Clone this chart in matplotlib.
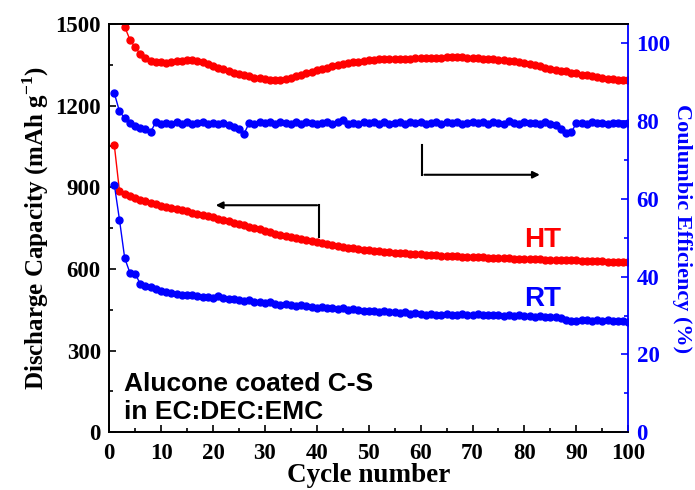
import numpy as np
import matplotlib
matplotlib.use('Agg')
import matplotlib.pyplot as plt
from matplotlib.ticker import MultipleLocator

plt.rcParams['font.family'] = 'Liberation Serif'
plt.rcParams['font.weight'] = 'bold'
plt.rcParams['mathtext.fontset'] = 'custom'
plt.rcParams['mathtext.rm'] = 'Liberation Serif:bold'
plt.rcParams['mathtext.bf'] = 'Liberation Serif:bold'

cycles = list(range(1, 101))

# discharge capacity (mAh/g)
cap_ht = [1055, 885, 876, 868, 861, 855, 849, 843, 838, 833,
          828, 824, 820, 815, 811, 806, 802, 798, 794, 790,
          785, 780, 775, 770, 765, 760, 755, 750, 745, 740,
          735, 730, 726, 722, 718, 714, 710, 706, 702, 698,
          694, 690, 687, 684, 681, 678, 676, 673, 671, 669,
          667, 665, 663, 662, 660, 659, 657, 656, 655, 654,
          652, 651, 650, 649, 648, 647, 646, 645, 645, 644,
          643, 642, 641, 641, 640, 639, 639, 638, 637, 637,
          636, 635, 635, 634, 634, 633, 632, 632, 631, 631,
          630, 630, 629, 628, 628, 627, 627, 626, 626, 625]
cap_rt = [910, 780, 640, 586, 583, 545, 536, 532, 525, 518,
          514, 510, 508, 505, 503, 505, 500, 498, 496, 493,
          500, 492, 488, 490, 485, 482, 484, 478, 480, 475,
          478, 470, 468, 472, 466, 465, 468, 462, 460, 458,
          460, 456, 458, 452, 455, 450, 452, 448, 447, 445,
          446, 442, 444, 440, 442, 438, 440, 436, 438, 436,
          432, 435, 430, 432, 435, 430, 432, 433, 430, 431,
          436, 432, 430, 429, 431, 428, 429, 427, 430, 428,
          427, 425, 426, 424, 425, 422, 418, 412, 410, 410,
          412, 413, 410, 412, 410, 411, 408, 410, 408, 405]

# coulombic efficiency (%)
ce_ht = [112, 106, 104.3, 101, 99, 97.3, 96.2, 95.6, 95.2, 95.1,
         95.0, 95.2, 95.4, 95.6, 95.8, 95.8, 95.6, 95.2, 94.8, 94.3,
         93.8, 93.3, 92.9, 92.5, 92.2, 91.9, 91.5, 91.2, 91.0, 90.8,
         90.6, 90.5, 90.7, 90.9, 91.2, 91.5, 91.9, 92.3, 92.7, 93.1,
         93.5, 93.8, 94.1, 94.4, 94.6, 94.9, 95.1, 95.3, 95.5, 95.7,
         95.8, 95.9, 95.9, 96.0, 96.0, 96.0, 96.1, 96.1, 96.2, 96.2,
         96.2, 96.3, 96.3, 96.3, 96.4, 96.4, 96.4, 96.4, 96.3, 96.3,
         96.2, 96.1, 96.0, 95.9, 95.8, 95.7, 95.6, 95.4, 95.2, 95.0,
         94.7, 94.4, 94.1, 93.8, 93.5, 93.2, 93.0, 92.8, 92.5, 92.3,
         92.0, 91.8, 91.6, 91.3, 91.1, 90.9, 90.8, 90.7, 90.6, 90.5]
ce_rt = [87.2, 82.5, 80.8, 79.5, 78.7, 78.2, 77.9, 77.2, 79.8, 79.2,
         79.6, 79.3, 79.8, 79.4, 79.9, 79.3, 79.5, 79.8, 79.2, 79.6,
         79.4, 79.5, 79.1, 78.6, 78.0, 76.8, 79.6, 79.4, 79.7, 79.5,
         79.8, 79.3, 79.9, 79.6, 79.2, 79.7, 79.4, 79.9, 79.5, 79.2,
         79.6, 79.8, 79.3, 79.7, 80.2, 79.4, 79.6, 79.3, 79.8, 79.5,
         79.7, 79.3, 79.9, 79.4, 79.6, 79.8, 79.3, 79.7, 79.5, 79.8,
         79.4, 79.6, 79.9, 79.3, 79.7, 79.5, 79.8, 79.4, 79.6, 79.7,
         79.5, 79.8, 79.3, 79.9, 79.5, 79.2, 80.0, 79.6, 79.4, 79.7,
         79.5, 79.6, 79.3, 79.7, 79.4, 78.9, 78.0, 76.9, 77.1, 79.5,
         79.6, 79.4, 79.7, 79.5, 79.6, 79.3, 79.6, 79.5, 79.4, 79.6]

fig = plt.figure(figsize=(6.95, 4.9), dpi=100)
ax = fig.add_axes([0.157, 0.118, 0.747, 0.833])
ax2 = ax.twinx()

ax.plot(cycles, cap_ht, 'o-', color='red', ms=5, lw=1)
ax.plot(cycles, cap_rt, 'o-', color='blue', ms=5, lw=1)
ax2.plot(cycles, ce_ht, 'o-', color='red', ms=5, lw=1)
ax2.plot(cycles, ce_rt, 'o-', color='blue', ms=5, lw=1)

ax.set_xlim(0, 100)
ax.set_ylim(0, 1500)
ax2.set_ylim(0, 105)

ax.xaxis.set_major_locator(MultipleLocator(10))
ax.xaxis.set_minor_locator(MultipleLocator(5))
ax.yaxis.set_major_locator(MultipleLocator(300))
ax.yaxis.set_minor_locator(MultipleLocator(150))
ax2.yaxis.set_major_locator(MultipleLocator(20))
ax2.yaxis.set_minor_locator(MultipleLocator(10))

ax.tick_params(axis='both', which='major', direction='in', length=5, width=1.2, labelsize=16.5)
ax.tick_params(axis='both', which='minor', direction='in', length=3, width=1.2)
ax.tick_params(axis='x', pad=8)
ax.tick_params(axis='y', pad=6)
ax2.tick_params(axis='y', which='major', direction='in', length=5, width=1.2,
                labelsize=16.5, colors='blue', pad=6)
ax2.tick_params(axis='y', which='minor', direction='in', length=3, width=1.2, colors='blue')

for s in ['left', 'bottom', 'top']:
    ax.spines[s].set_linewidth(1.3)
    ax2.spines[s].set_linewidth(1.3)
ax.spines['right'].set_visible(False)
ax2.spines['right'].set_color('blue')
ax2.spines['right'].set_linewidth(1.3)

ax.set_xlabel('Cycle number', fontsize=19.5, fontweight='bold', labelpad=-1)
ax.set_ylabel(r'Discharge Capacity (mAh g$^{-1}$)', fontsize=18, fontweight='bold', labelpad=3)
ax2.set_ylabel('Coulumbic Efficiency (%)', fontsize=16, fontweight='bold',
               color='blue', rotation=270, labelpad=15)

# arrows
ax.plot([40.5, 40.5], [717, 834], color='black', lw=1.5)
ax.annotate('', xy=(20, 834), xytext=(40.6, 834),
            arrowprops=dict(arrowstyle='-|>', color='black', lw=1.5, mutation_scale=10))
ax.plot([60.3, 60.3], [946, 1056], color='black', lw=1.5)
ax.annotate('', xy=(83.5, 946), xytext=(60.2, 946),
            arrowprops=dict(arrowstyle='-|>', color='black', lw=1.5, mutation_scale=10))

ax.text(83.5, 706, 'HT', color='red', fontsize=20, fontweight='bold',
        family='Liberation Sans', ha='center', va='center')
ax.text(83.5, 491, 'RT', color='blue', fontsize=20, fontweight='bold',
        family='Liberation Sans', ha='center', va='center')
ax.text(2.8, 126, 'Alucone coated C-S\nin EC:DEC:EMC', color='black', fontsize=19,
        fontweight='bold', family='Liberation Sans', ha='left', va='center',
        linespacing=1.2)

plt.savefig('out.png', dpi=100)
